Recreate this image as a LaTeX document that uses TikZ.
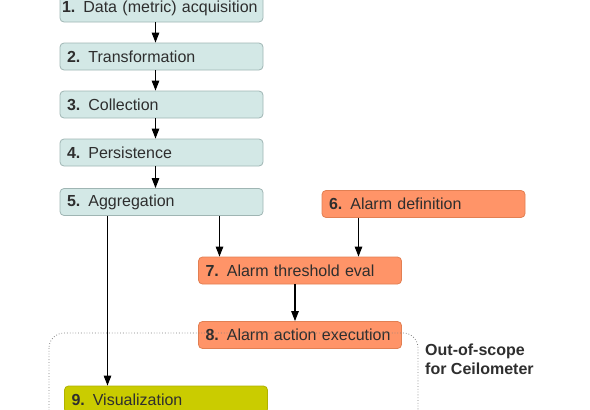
\documentclass[tikz,border=0pt]{standalone}
\usepackage{fontspec}
\setmainfont{Liberation Sans}
\usetikzlibrary{arrows.meta}

\definecolor{pipefill}{HTML}{D3E8E6}
\definecolor{pipeline}{HTML}{9FB5B3}
\definecolor{alarmfill}{HTML}{FF9468}
\definecolor{alarmline}{HTML}{E27F52}
\definecolor{visfill}{HTML}{CACC00}
\definecolor{visline}{HTML}{B0B200}
\definecolor{boxtext}{HTML}{2E2E2E}

\begin{document}
\begin{tikzpicture}[x=1pt,y=-1pt]
\def \posunx {161}
\useasboundingbox (0,0) rectangle (590,410);
   \tikzset{BoxStyle/.style = {rectangle, rounded corners=4pt, draw, line width=0.8pt,
            text width=189pt, inner xsep=7pt, inner ysep=0pt, minimum height=27pt,
            align=left, text=boxtext, font=\fontsize{16}{19}\selectfont}}
   \tikzset{PipeStyle/.style = {BoxStyle, fill=pipefill, draw=pipeline}}
   \tikzset{AlarmStyle/.style = {BoxStyle, fill=alarmfill, draw=alarmline}}
   \tikzset{VisStyle/.style = {BoxStyle, fill=visfill, draw=visline}}
   \tikzset{EdgeStyle/.style = {line width=1.1pt, -{Triangle[length=10pt,width=7.5pt]}}}

   % metering pipeline
   \node[PipeStyle, text width=199pt, inner xsep=2pt] (acq) at (\posunx+0.5,8.5) {\textbf{1.} Data (metric) acquisition};
   \node[PipeStyle] (trans) at (\posunx+0.5,56.5) {\textbf{2.} Transformation};
   \node[PipeStyle] (coll) at (\posunx+0.5,104.5) {\textbf{3.} Collection};
   \node[PipeStyle] (pers) at (\posunx+0.5,152.5) {\textbf{4.} Persistence};
   \node[PipeStyle] (aggr) at (\posunx+0.5,202)   {\textbf{5.} Aggregation};

   % alarming
   \node[AlarmStyle] (def)  at (423.5,204)  {\textbf{6.} Alarm definition};
   \node[AlarmStyle] (eval) at (300,270.5)  {\textbf{7.} Alarm threshold eval};
   \node[AlarmStyle] (act)  at (300,335)    {\textbf{8.} Alarm action execution};

   \node[VisStyle] (vis) at (166,399.5) {\textbf{9.} Visualization};

	\draw[EdgeStyle] ([xshift=-6pt]acq.south) -- ([xshift=-6pt]acq.south |- trans.north);
	\draw[EdgeStyle] ([xshift=-6pt]trans.south) -- ([xshift=-6pt]trans.south |- coll.north);
	\draw[EdgeStyle] ([xshift=-6pt]coll.south) -- ([xshift=-6pt]coll.south |- pers.north);
	\draw[EdgeStyle] ([xshift=-6pt]pers.south) -- ([xshift=-6pt]pers.south |- aggr.north);
	\draw[EdgeStyle] ([xshift=-54pt]aggr.south) -- ([xshift=-54pt]aggr.south |- vis.north);
	\draw[EdgeStyle] ([xshift=58pt]aggr.south) -- ([xshift=58pt]aggr.south |- eval.north);
	\draw[EdgeStyle] ([xshift=-65pt]def.south) -- ([xshift=-65pt]def.south |- eval.north);
	\draw[EdgeStyle] ([xshift=-5pt]eval.south) -- ([xshift=-5pt]eval.south |- act.north);

%   out of scope region
   \draw[gray, dotted, line width=0.8pt, rounded corners=15pt] (49,333) rectangle (418,440);
   \node[anchor=north west, align=left, inner sep=0pt, text=boxtext,
         font=\fontsize{16}{19}\selectfont\bfseries] (scope) at (425,344) {Out-of-scope\\for Ceilometer};
\end{tikzpicture}
\end{document}
